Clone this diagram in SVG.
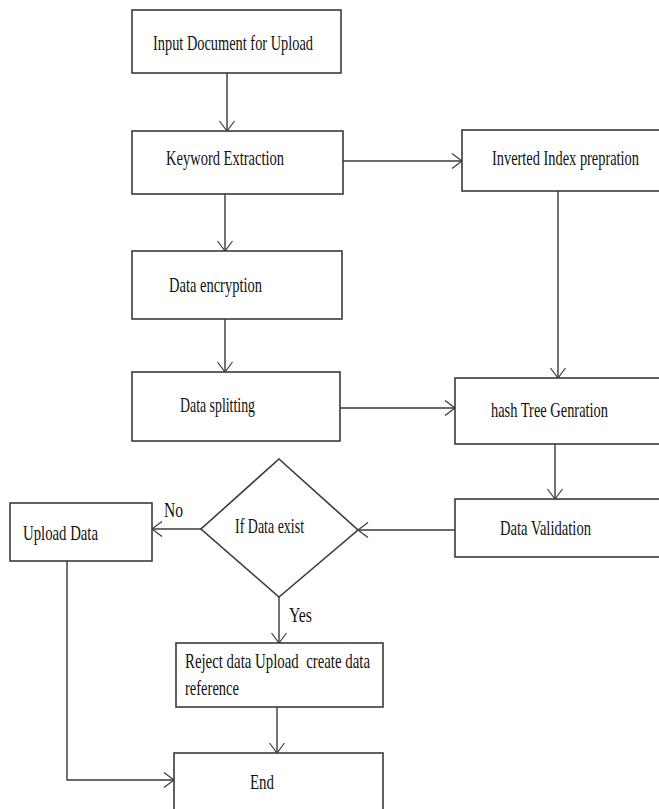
<svg xmlns="http://www.w3.org/2000/svg" width="659" height="809" viewBox="0 0 659 809">
<style>
.box{fill:#fff;stroke:#3a3a3a;stroke-width:1.6}
.t{font-family:"Liberation Serif","Times New Roman",serif;font-size:21px;fill:#111}
.c{fill:none;stroke:#3a3a3a;stroke-width:1.4}
</style>
<defs>
<marker id="ah" viewBox="0 0 12 16" refX="11" refY="8" markerWidth="12" markerHeight="16" markerUnits="userSpaceOnUse" orient="auto">
<path d="M1,0.5 L11,8 L1,15.5" fill="none" stroke="#3a3a3a" stroke-width="1.2"/>
</marker>
</defs>
<rect width="659" height="809" fill="#fff"/>
<g id="connectors">
<path class="c" d="M227,73 V131" marker-end="url(#ah)"/>
<path class="c" d="M225,194 V251" marker-end="url(#ah)"/>
<path class="c" d="M225,319 V372" marker-end="url(#ah)"/>
<path class="c" d="M343,161 H462" marker-end="url(#ah)"/>
<path class="c" d="M558,191 V378" marker-end="url(#ah)"/>
<path class="c" d="M340,408 H455" marker-end="url(#ah)"/>
<path class="c" d="M555,444 V499" marker-end="url(#ah)"/>
<path class="c" d="M455,530 H358" marker-end="url(#ah)"/>
<path class="c" d="M201,529 H152" marker-end="url(#ah)"/>
<path class="c" d="M279,597 V643" marker-end="url(#ah)"/>
<path class="c" d="M277,707 V753" marker-end="url(#ah)"/>
<path class="c" d="M67,561 V780 H174" marker-end="url(#ah)"/>
</g>
<g id="n1"><rect class="box" x="132" y="10" width="209" height="63"/><text class="t" transform="translate(153,50) scale(0.68,1)" textLength="235.3" lengthAdjust="spacingAndGlyphs">Input Document for Upload</text></g>
<g id="n2"><rect class="box" x="132" y="131" width="211" height="63"/><text class="t" transform="translate(166,165) scale(0.68,1)" textLength="173.5" lengthAdjust="spacingAndGlyphs">Keyword Extraction</text></g>
<g id="n3"><rect class="box" x="132" y="251" width="210" height="68"/><text class="t" transform="translate(169,292) scale(0.68,1)" textLength="136.8" lengthAdjust="spacingAndGlyphs">Data encryption</text></g>
<g id="n4"><rect class="box" x="132" y="372" width="208" height="69"/><text class="t" transform="translate(180,412) scale(0.68,1)" textLength="110.3" lengthAdjust="spacingAndGlyphs">Data splitting</text></g>
<g id="n5"><rect class="box" x="462" y="130" width="205" height="61"/><text class="t" transform="translate(492,165) scale(0.68,1)" textLength="216.2" lengthAdjust="spacingAndGlyphs">Inverted Index prepration</text></g>
<g id="n6"><rect class="box" x="455" y="378" width="212" height="66"/><text class="t" transform="translate(491,417) scale(0.68,1)" textLength="172.1" lengthAdjust="spacingAndGlyphs">hash Tree Genration</text></g>
<g id="n7"><rect class="box" x="455" y="499" width="212" height="58"/><text class="t" transform="translate(500,535) scale(0.68,1)" textLength="133.8" lengthAdjust="spacingAndGlyphs">Data Validation</text></g>
<g id="n8"><polygon class="box" points="279,459 358,530 279,597 201,529"/><text class="t" transform="translate(235,533) scale(0.68,1)" textLength="101.5" lengthAdjust="spacingAndGlyphs">If Data exist</text></g>
<g id="n9"><rect class="box" x="10" y="503" width="142" height="58"/><text class="t" transform="translate(23,540) scale(0.68,1)" textLength="110.3" lengthAdjust="spacingAndGlyphs">Upload Data</text></g>
<g id="n10"><rect class="box" x="176" y="643" width="207" height="64"/><text class="t" transform="translate(185,668) scale(0.68,1)" textLength="272.1" lengthAdjust="spacingAndGlyphs">Reject data Upload&#160; create data</text><text class="t" transform="translate(185,695) scale(0.68,1)" textLength="79.4" lengthAdjust="spacingAndGlyphs">reference</text></g>
<g id="n11"><rect class="box" x="174" y="753" width="209" height="70"/><text class="t" transform="translate(250,789) scale(0.68,1)" textLength="35.3" lengthAdjust="spacingAndGlyphs">End</text></g>
<g id="labels">
<text class="t" transform="translate(164,517) scale(0.68,1)" textLength="27.9" lengthAdjust="spacingAndGlyphs">No</text>
<text class="t" transform="translate(289,622) scale(0.68,1)" textLength="33.8" lengthAdjust="spacingAndGlyphs">Yes</text>
</g>
</svg>
